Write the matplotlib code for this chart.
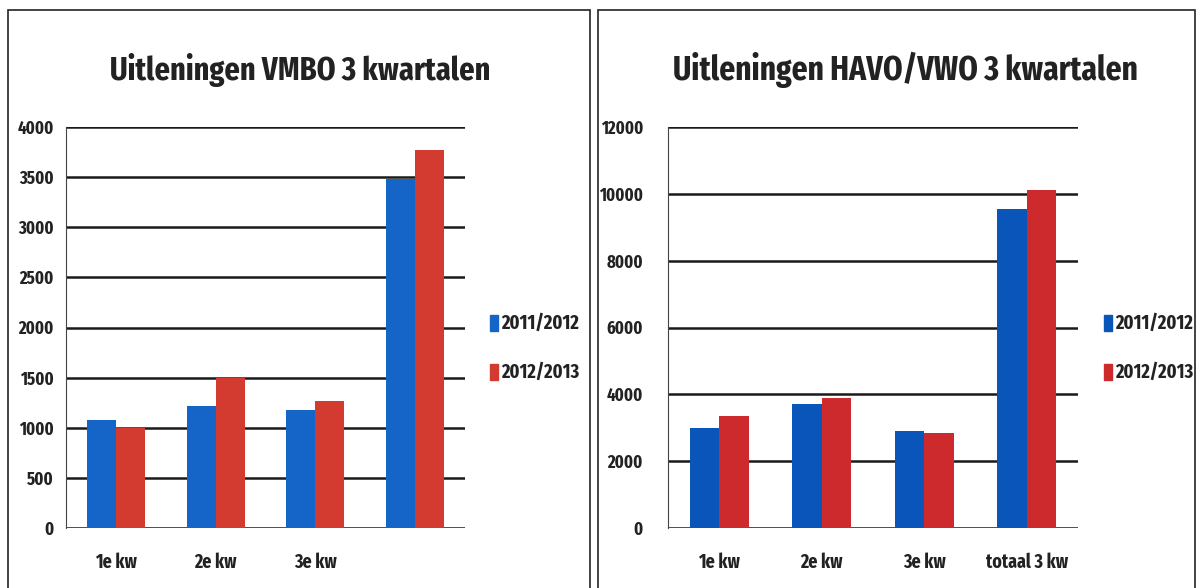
import matplotlib
matplotlib.use("Agg")
import matplotlib.pyplot as plt
from matplotlib import font_manager
from matplotlib.patches import Rectangle
import numpy as np

# ---- data ----
categories_left = ["1e kw", "2e kw", "3e kw", ""]
vmbo_2011 = [1080, 1220, 1180, 3480]
vmbo_2012 = [1000, 1500, 1270, 3770]

categories_right = ["1e kw", "2e kw", "3e kw", "totaal 3 kw"]
havo_2011 = [3000, 3700, 2900, 9550]
havo_2012 = [3350, 3900, 2850, 10100]

series_labels = ["2011/2012", "2012/2013"]
left_ticks = [0, 500, 1000, 1500, 2000, 2500, 3000, 3500, 4000]
right_ticks = [0, 2000, 4000, 6000, 8000, 10000, 12000]

names = {f.name for f in font_manager.fontManager.ttflist}
fam = "DejaVu Sans"
for cand in ["Fira Sans Extra Condensed", "Roboto Condensed", "Archivo Narrow",
             "PT Sans Narrow", "Open Sans Condensed", "Liberation Sans Narrow"]:
    if cand in names:
        fam = cand
        break
plt.rcParams["font.family"] = [fam, "DejaVu Sans"]
plt.rcParams["font.weight"] = "bold"

W, H = 1202, 588
fig = plt.figure(figsize=(W / 100, H / 100), dpi=100)
fig.patch.set_facecolor("white")
renderer = fig.canvas.get_renderer()

def fx(px):
    return px / W

def fy(py):
    return 1 - py / H

def fit_text(x, y, s, target_w, ha, size0=20, **kw):
    t = fig.text(fx(x), fy(y), s, ha=ha, va="center", fontsize=size0,
                 fontweight="bold", color="#222222", **kw)
    w = t.get_window_extent(renderer).width
    t.set_fontsize(size0 * target_w / w)
    return t

# panel borders
for (x0, x1) in [(8, 590), (598, 1195)]:
    fig.add_artist(Rectangle((fx(x0), fy(600)), fx(x1 - x0), fy(10) - fy(600),
                             transform=fig.transFigure, fill=False,
                             edgecolor="#222222", linewidth=1.2))

def draw(ax_px, cats, s1, s2, ticks, title, title_x, title_w, leg_x, tick_pad,
         blue, red):
    x0, x1, ytop, ybot = ax_px
    ax = fig.add_axes([fx(x0), fy(ybot), fx(x1 - x0), fy(ytop) - fy(ybot)])
    x = np.arange(len(cats))
    w = 0.29
    ax.bar(x - w / 2, s1, w, color=blue, zorder=3)
    ax.bar(x + w / 2, s2, w, color=red, zorder=3)
    ax.set_xlim(-0.5, len(cats) - 0.5)
    ax.set_ylim(0, ticks[-1])
    ax.set_yticks(ticks)
    ax.set_yticklabels([str(t) for t in ticks], fontsize=13, fontweight="bold",
                       color="#222222")
    ax.set_xticks(x)
    ax.set_xticklabels(cats, fontsize=14, fontweight="bold", color="#222222")
    ax.tick_params(axis="y", length=0, pad=tick_pad)
    ax.tick_params(axis="x", length=0, pad=18)
    for t in ticks:
        ax.axhline(t, color="#1a1a1a", linewidth=1.8, zorder=1)
    for s in ["top", "right", "bottom"]:
        ax.spines[s].set_visible(False)
    ax.spines["left"].set_color("#444444")
    ax.spines["left"].set_linewidth(0.8)
    fit_text(title_x, 70, title, title_w, "center")
    for lab, col, ly in [(series_labels[0], blue, 323), (series_labels[1], red, 372)]:
        fig.add_artist(Rectangle((fx(leg_x), fy(ly + 8)), fx(8), fy(ly - 8) - fy(ly + 8),
                                 transform=fig.transFigure, color=col))
        fit_text(leg_x + 11, ly, lab, 78, "left")
    return ax

draw((66, 465, 127, 528), categories_left, vmbo_2011, vmbo_2012, left_ticks,
     "Uitleningen VMBO 3 kwartalen", 300, 380, 490, 9, "#1565C8", "#D33A30")
draw((668, 1078, 127, 528), categories_right, havo_2011, havo_2012, right_ticks,
     "Uitleningen HAVO/VWO 3 kwartalen", 905, 465, 1104, 18, "#0A55BA", "#CC2A2C")

fig.savefig("out.png", dpi=100)
